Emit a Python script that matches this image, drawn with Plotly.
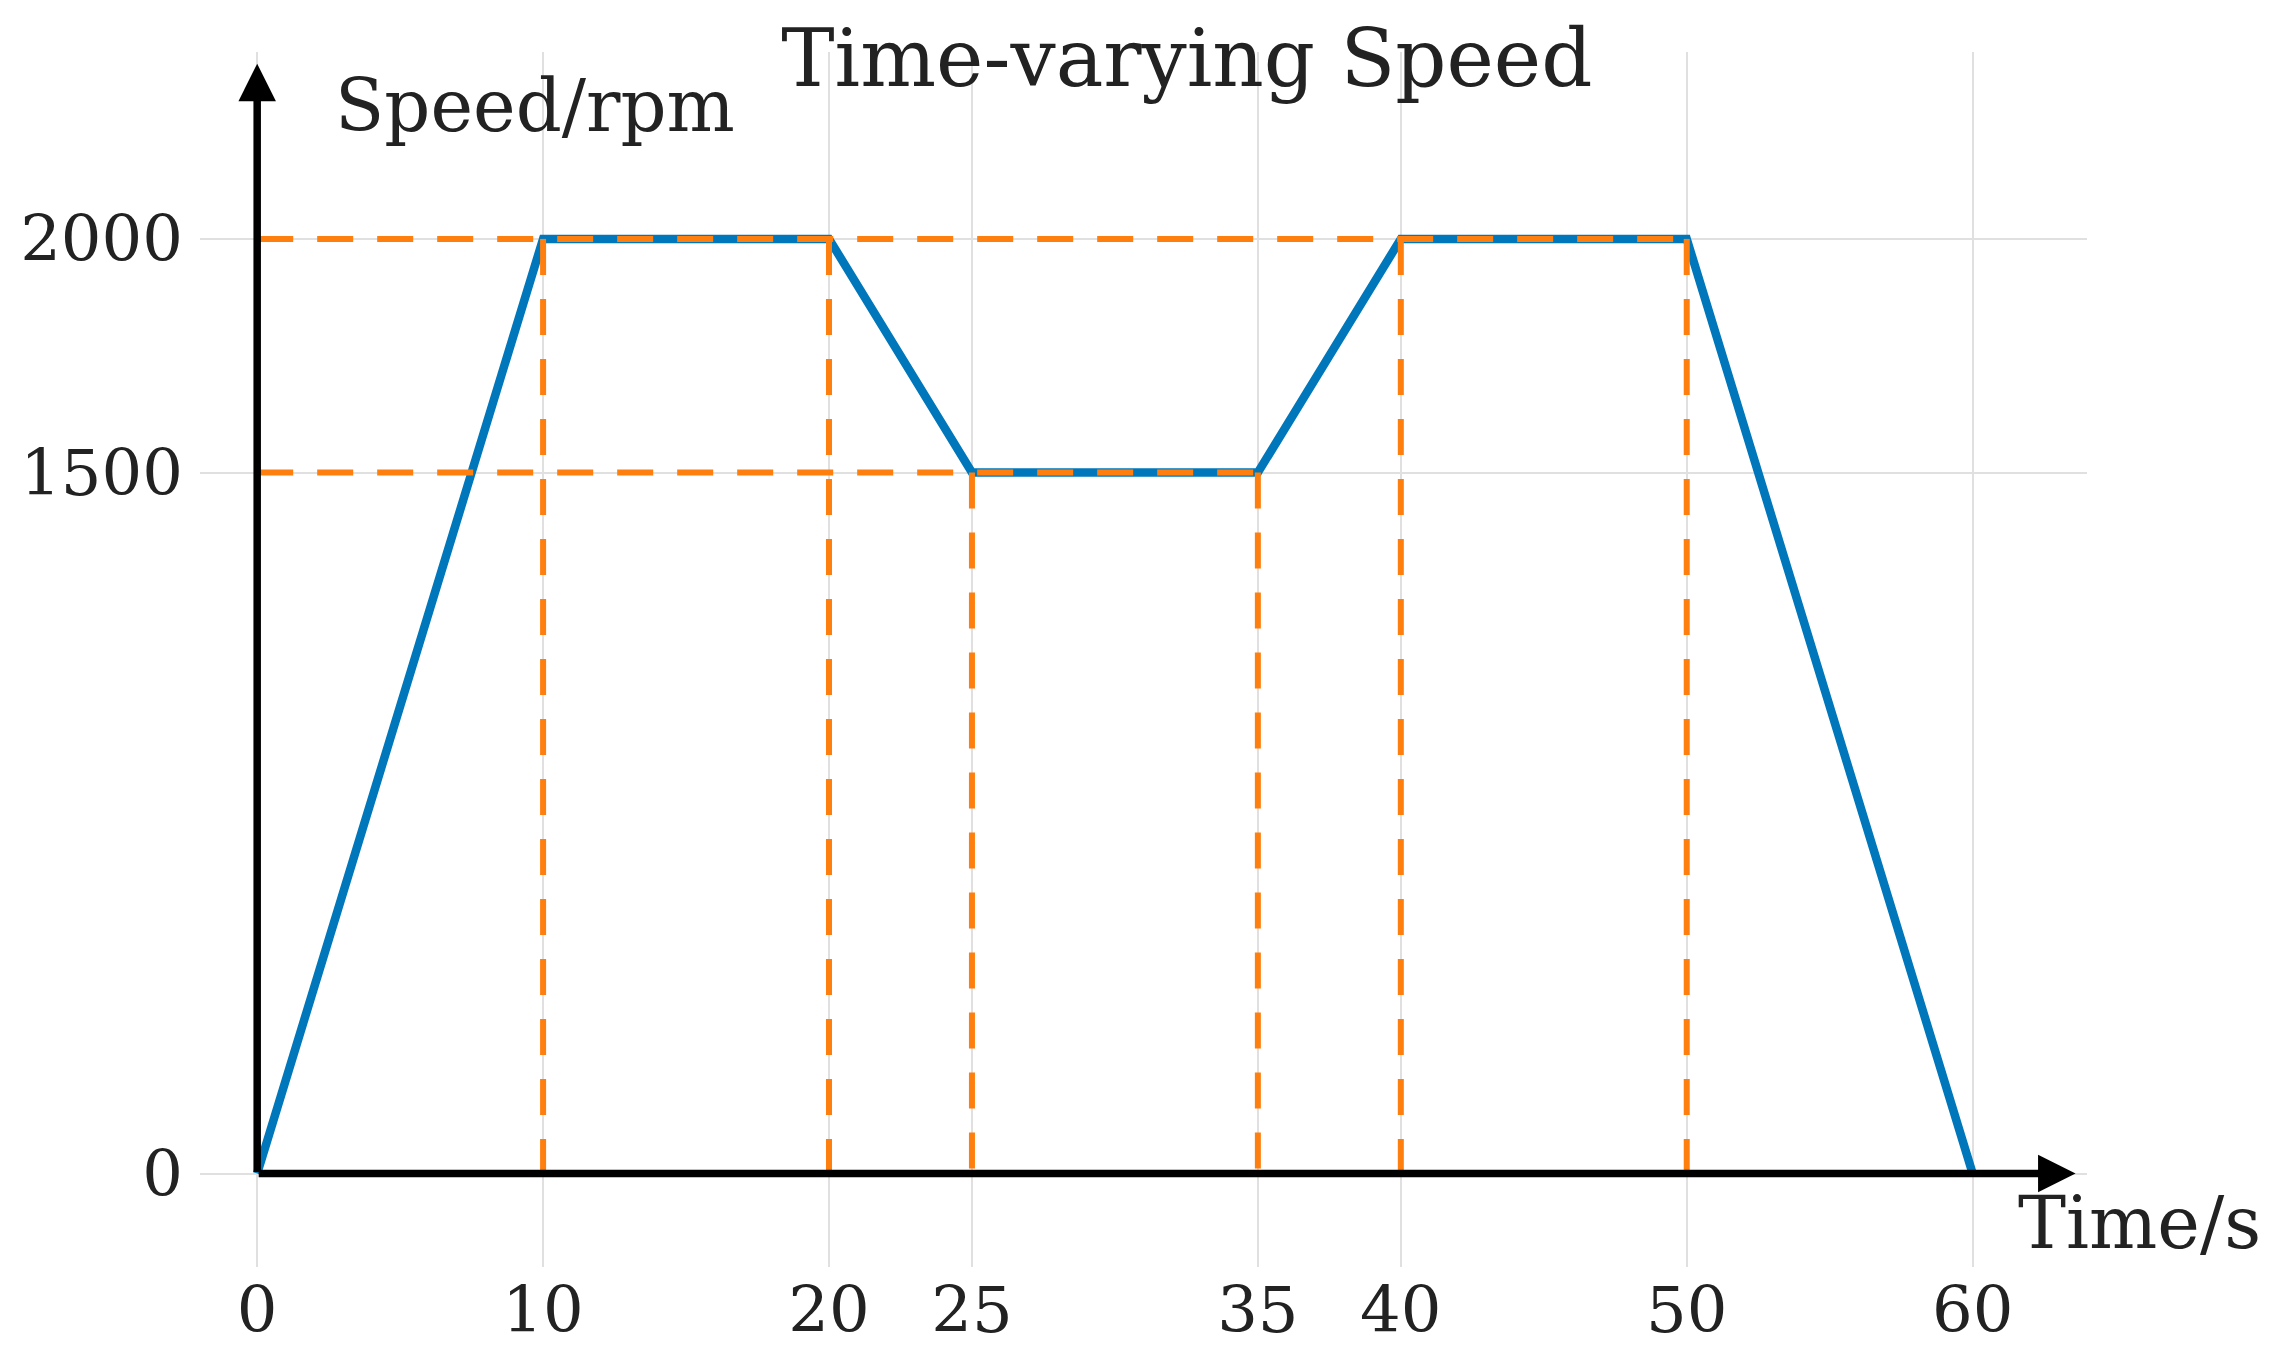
import plotly.graph_objects as go

# speed profile
time_s = [0, 10, 20, 25, 35, 40, 50, 60]
speed_rpm = [0, 2000, 2000, 1500, 1500, 2000, 2000, 0]

x_ticks = [0, 10, 20, 25, 35, 40, 50, 60]
y_ticks = [0, 1500, 2000]

BLUE = "#0077bb"
ORANGE = "#ff7f0e"
FONT = "DejaVu Serif"
TXT = "#222222"

# dashed guide lines: vertical drop from every corner, horizontal from y axis to last corner of each level
gx, gy = [], []
for t, v in zip(time_s, speed_rpm):
    if v > 0:
        gx += [t, t, None]
        gy += [v, 0, None]
for lvl in sorted(set(v for v in speed_rpm if v > 0), reverse=True):
    t_end = max(t for t, v in zip(time_s, speed_rpm) if v == lvl)
    gx += [0, t_end, None]
    gy += [lvl, lvl, None]

fig = go.Figure()
fig.add_trace(go.Scatter(x=time_s, y=speed_rpm, mode="lines",
                         line=dict(color=BLUE, width=8.5), cliponaxis=False))
fig.add_trace(go.Scatter(x=gx, y=gy, mode="lines",
                         line=dict(color=ORANGE, width=6, dash="36px,24px")))

# axes drawn as arrows
fig.add_annotation(x=63.6, y=0, ax=0, ay=0, xref="x", yref="y", axref="x", ayref="y",
                   text="", showarrow=True, arrowhead=2, arrowsize=1.0, arrowwidth=7.5,
                   arrowcolor="black", standoff=0)
fig.add_annotation(x=0, y=2375, ax=0, ay=0, xref="x", yref="y", axref="x", ayref="y",
                   text="", showarrow=True, arrowhead=2, arrowsize=1.0, arrowwidth=7.5,
                   arrowcolor="black", standoff=0)

fig.add_annotation(x=2.65, y=2284, xref="x", yref="y", text="Speed/rpm", showarrow=False,
                   xanchor="left", yanchor="middle", font=dict(family=FONT, size=72, color=TXT))
fig.add_annotation(x=61.5, y=-105, xref="x", yref="y", text="Time/s", showarrow=False,
                   xanchor="left", yanchor="middle", font=dict(family=FONT, size=72, color=TXT))

fig.update_layout(
    width=2254, height=1352,
    margin=dict(l=184, r=175, t=44, b=93),
    paper_bgcolor="white", plot_bgcolor="white",
    showlegend=False,
    title=dict(text="Time-varying Speed", x=0.523, xanchor="center",
               y=0.963, yref="container", yanchor="middle",
               font=dict(family=FONT, size=80, color=TXT)),
    font=dict(family=FONT, size=64, color=TXT),
)
fig.update_xaxes(range=[-2, 64], tickvals=x_ticks, showgrid=True, gridcolor="#e0e0e0",
                 gridwidth=2, zeroline=False, showline=False, ticks="",
                 tickfont=dict(family=FONT, size=64, color=TXT))
fig.update_yaxes(range=[-200, 2400], tickvals=y_ticks, showgrid=True, gridcolor="#e0e0e0",
                 gridwidth=2, zeroline=False, showline=False, ticks="", ticklabelstandoff=16,
                 tickfont=dict(family=FONT, size=64, color=TXT))

fig.write_html("out.html")
